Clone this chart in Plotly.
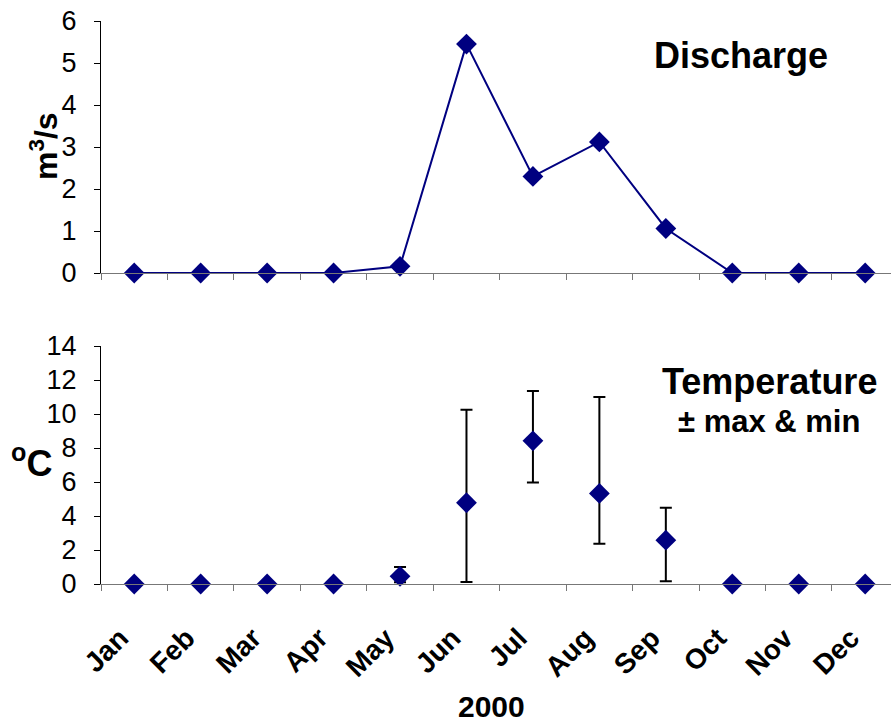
import plotly.graph_objects as go

months = ["Jan", "Feb", "Mar", "Apr", "May", "Jun", "Jul", "Aug", "Sep", "Oct", "Nov", "Dec"]
discharge = [0, 0, 0, 0, 0.16, 5.45, 2.3, 3.12, 1.06, 0, 0, 0]
temp_mean = [0, 0, 0, 0, 0.45, 4.78, 8.42, 5.33, 2.58, 0, 0, 0]
temp_max = [None, None, None, None, 1.0, 10.25, 11.35, 11.0, 4.48, None, None, None]
temp_min = [None, None, None, None, 0.1, 0.12, 5.97, 2.37, 0.16, None, None, None]

err_plus = [None if mx is None else mx - m for mx, m in zip(temp_max, temp_mean)]
err_minus = [None if mn is None else m - mn for mn, m in zip(temp_min, temp_mean)]

NAVY = "#000080"
FONT = "Liberation Sans, Arial, sans-serif"

W, H = 891, 723
L, R, T, B = 101, 0, 21, 139
PW, PH = W - L - R, H - T - B
CAT = 66.45  # pixel width of one month


def px(x):
    return (x - L) / PW


def py(y):
    return (H - B - y) / PH


fig = go.Figure()
fig.add_trace(go.Scatter(
    x=months, y=discharge, mode="lines+markers", xaxis="x", yaxis="y",
    line=dict(color=NAVY, width=2),
    marker=dict(symbol="diamond", size=16, color=NAVY),
    cliponaxis=False, showlegend=False))
fig.add_trace(go.Scatter(
    x=months, y=temp_mean, mode="markers", xaxis="x2", yaxis="y2",
    marker=dict(symbol="diamond", size=16, color=NAVY),
    error_y=dict(type="data", symmetric=False, array=err_plus, arrayminus=err_minus,
                 color="black", thickness=2, width=6),
    cliponaxis=False, showlegend=False))
# invisible carrier trace so that the month-label axis is drawn
fig.add_trace(go.Scatter(
    x=list(range(len(months))), y=[None] * len(months), mode="markers",
    xaxis="x3", yaxis="y2", hoverinfo="skip", showlegend=False))

xr = [-0.5, -0.5 + PW / CAT]
xcommon = dict(type="category", range=xr, tickson="boundaries", ticks="outside", ticklen=6,
               tickcolor="#777", tickwidth=1, showline=True, linecolor="#777", linewidth=1,
               showgrid=False, zeroline=False, fixedrange=True)
ycommon = dict(ticks="outside", ticklen=6, tickcolor="black", showline=True, linecolor="black",
               linewidth=1, showgrid=False, zeroline=False, ticklabelstandoff=12,
               tickfont=dict(family=FONT, size=27, color="black"))

top_bottom = 1 - (273 - T) / PH
bot_top = 1 - (346 - T) / PH

# month labels sit slightly left of each month's centre, as in the reference
label_pos = [i - 14 / CAT for i in range(len(months))]


def ann(text, x, y, size, **kw):
    return dict(text=text, x=px(x), y=py(y), xref="paper", yref="paper",
                xanchor="center", yanchor="middle", showarrow=False,
                font=dict(size=size, family=FONT, color="black"), **kw)


fig.update_layout(
    width=W, height=H, margin=dict(l=L, r=R, t=T, b=B),
    paper_bgcolor="white", plot_bgcolor="white",
    font=dict(family=FONT, color="black"),
    xaxis=dict(**xcommon, domain=[0, 1], anchor="y", showticklabels=False),
    yaxis=dict(**ycommon, domain=[top_bottom, 1], range=[0, 6], dtick=1, anchor="x"),
    xaxis2=dict(**xcommon, domain=[0, 1], anchor="y2", showticklabels=False),
    xaxis3=dict(type="linear", range=xr, domain=[0, 1], anchor="y2", overlaying="x2",
                side="bottom", tickmode="array", tickvals=label_pos, ticktext=months,
                ticks="", showline=False, showgrid=False, zeroline=False,
                tickangle=-45, ticklabelstandoff=31, fixedrange=True,
                tickfont=dict(family=FONT, size=28, color="black", weight="bold")),
    yaxis2=dict(**ycommon, domain=[0, bot_top], range=[0, 14], dtick=2, anchor="x2"),
    annotations=[
        ann("<b>Discharge</b>", 741, 55, 36),
        ann("<b>Temperature</b>", 769, 381, 36),
        ann("<b>± max & min</b>", 769, 421, 31),
        ann("<b>m<sup>3</sup>/s</b>", 44, 146, 32, textangle=-90),
        ann("<b><sup>o</sup>C</b>", 31, 461, 36),
        ann("<b>2000</b>", 491, 706, 30),
    ],
)

fig.write_html("out.html")
